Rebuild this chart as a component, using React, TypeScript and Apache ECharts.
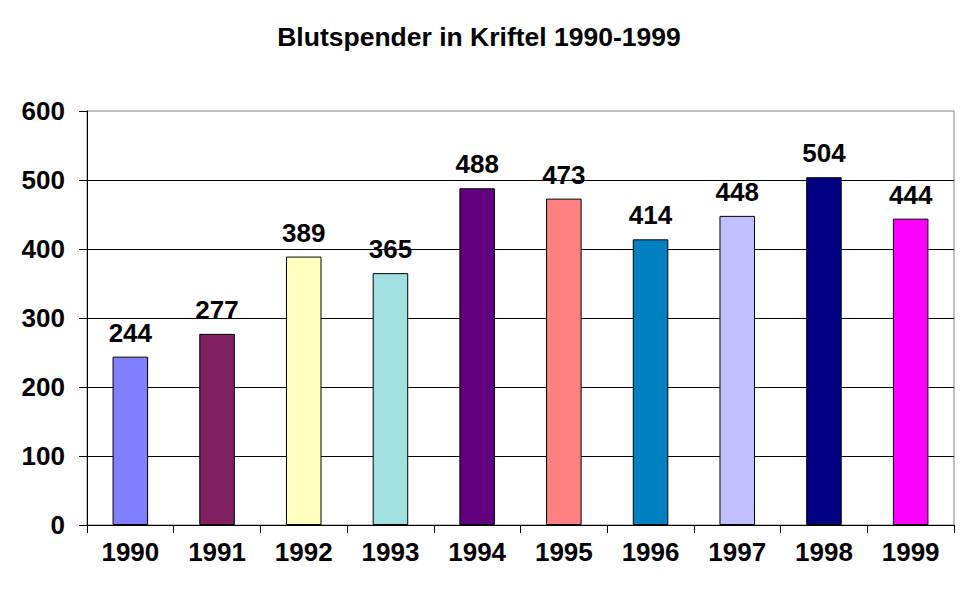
import React, { useEffect, useRef } from "react";
import * as echarts from "echarts";

const years = ["1990", "1991", "1992", "1993", "1994", "1995", "1996", "1997", "1998", "1999"];
const donors = [244, 277, 389, 365, 488, 473, 414, 448, 504, 444];
const barColors = ["#8080FF", "#802060", "#FFFFC0", "#A0E0E0", "#600080", "#FF8080", "#0080C0", "#C0C0FF", "#000080", "#FF00FF"];
const titleText = "Blutspender in Kriftel 1990-1999";

const FONT = "'Liberation Sans', Arial, sans-serif";

export default function App() {
  const ref = useRef<HTMLDivElement>(null);
  useEffect(() => {
    document.body.style.margin = "0";
    const chart = echarts.init(ref.current!, null, { renderer: "svg" });
    chart.setOption({
      animation: false,
      backgroundColor: "#ffffff",
      title: {
        text: titleText,
        left: 474,
        top: 18,
        textAlign: "center",
        textStyle: { fontFamily: FONT, fontSize: 26.5, fontWeight: "bold", color: "#000" },
      },
      grid: {
        left: 87,
        right: 16,
        top: 111,
        bottom: 78,
        show: true,
        borderColor: "#808080",
        borderWidth: 1,
        backgroundColor: "transparent",
      },
      xAxis: {
        type: "category",
        data: years,
        boundaryGap: true,
        axisLine: { show: true, lineStyle: { color: "#000", width: 1 } },
        axisTick: { show: true, length: 8, alignWithLabel: false, lineStyle: { color: "#000" } },
        axisLabel: { margin: 14, color: "#000", fontFamily: FONT, fontSize: 26, fontWeight: "bold" },
        splitLine: { show: false },
      },
      yAxis: {
        type: "value",
        min: 0,
        max: 600,
        interval: 100,
        axisLine: { show: true, lineStyle: { color: "#000", width: 1 } },
        axisTick: { show: true, length: 8, lineStyle: { color: "#000" } },
        axisLabel: { margin: 22, color: "#000", fontFamily: FONT, fontSize: 26, fontWeight: "bold" },
        splitLine: { show: true, showMaxLine: false, lineStyle: { color: "#000", width: 1 } },
      },
      series: [
        {
          type: "bar",
          barWidth: "41%",
          data: donors.map((v, i) => ({
            value: v,
            itemStyle: { color: barColors[i], borderColor: "#000", borderWidth: 1 },
          })),
          label: {
            show: true,
            position: "top",
            distance: 11,
            color: "#000",
            fontFamily: FONT,
            fontSize: 26,
            fontWeight: "bold",
          },
        },
      ],
    });
    return () => chart.dispose();
  }, []);
  return <div ref={ref} style={{ width: 970, height: 603 }} />;
}
